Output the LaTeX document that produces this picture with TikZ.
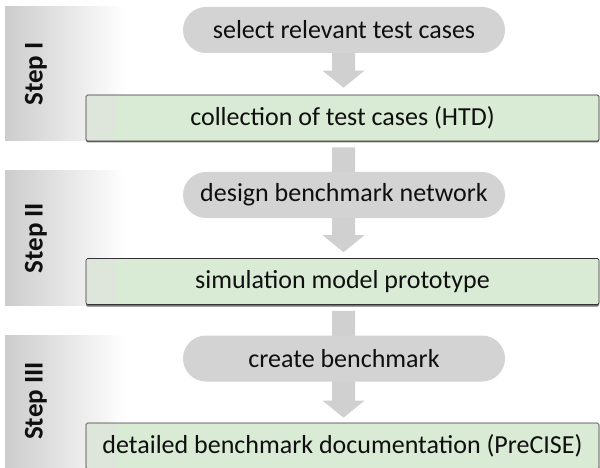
\documentclass[tikz,border=0pt]{standalone}
\usepackage{fontspec}
\setmainfont{Carlito}
\usetikzlibrary{calc}
\definecolor{pillgray}{RGB}{211,211,211}
\definecolor{arrgray}{RGB}{208,208,208}
\definecolor{gbox}{RGB}{217,234,213}
\definecolor{gboxl}{RGB}{222,230,220}
\definecolor{bandgray}{RGB}{204,204,204}
\definecolor{txt}{RGB}{15,15,15}
\pgfdeclarelayer{bg}
\pgfsetlayers{bg,main}
\newcommand\blkarrow[2]{%
  \fill[arrgray] let \p1=(#1), \p2=(#2) in
    (\x1-11.5pt,\y1) -- (\x1+11.5pt,\y1) -- (\x1+11.5pt,\y2+17pt) --
    (\x1+21pt,\y2+17pt) -- (\x1,\y2) -- (\x1-21pt,\y2+17pt) --
    (\x1-11.5pt,\y2+17pt) -- cycle;}
\begin{document}
\begin{tikzpicture}[x=1pt,y=-1pt,
  every node/.style={font=\fontsize{26}{30}\selectfont, text=txt, inner sep=0pt},
  pill/.style={fill=pillgray, rounded corners=23pt, minimum width=322pt, minimum height=46pt},
  result/.style={fill=gbox, draw=black!80, line width=0.7pt, rounded corners=1.5pt,
    minimum width=513pt, minimum height=46pt,
    path picture={\shade[left color=gboxl, right color=gbox]
      (path picture bounding box.south west) rectangle ([xshift=30pt]path picture bounding box.north west);}},
  shadowbox/.style={fill=black!55, rounded corners=1.5pt},
  steplabel/.style={rotate=90, font=\bfseries\fontsize{27}{30}\selectfont},
  band/.style={left color=bandgray, right color=white}
]
\useasboundingbox (0,0) rectangle (600,468);

% pills
\node[pill] (pillI) at (344,30) {select relevant test cases};
\node[pill] (pillII) at (344,195) {design benchmark network};
\node[pill] (pillIII) at (344,358.5) {create benchmark};

% result boxes (with bottom shadow)
\fill[shadowbox] (86,97) rectangle (599,142.5);
\node[result] (boxI) at (342.5,118) {collection of test cases (HTD)};
\fill[shadowbox] (86,260) rectangle (599,306.5);
\node[result] (boxII) at (342.5,281.5) {simulation model prototype};
\fill[shadowbox] (86,424) rectangle (599,471.5);
\node[result] (boxIII) at (342.5,446) {detailed benchmark documentation (PreCISE)};

% step labels
\node[steplabel] (stepI) at (36,74) {Step I};
\node[steplabel] (stepII) at (36,238) {Step II};
\node[steplabel] (stepIII) at (36,401) {Step III};

\begin{pgfonlayer}{bg}
  \shade[band] (5,7) rectangle (125,141);
  \shade[band] (5,171) rectangle (125,305);
  \shade[band] (5,335) rectangle (125,470);
  \blkarrow{$(pillI.center)+(-0.5,0)$}{$(boxI.north -| pillI.center)+(-0.5,-7)$}
  \blkarrow{$(boxI.south -| pillII.center)+(-0.5,6)$}{$(boxII.north -| pillII.center)+(-0.5,-6)$}
  \blkarrow{$(boxII.south -| pillIII.center)+(-0.5,6)$}{$(boxIII.north -| pillIII.center)+(-0.5,-5)$}
\end{pgfonlayer}
\end{tikzpicture}
\end{document}
